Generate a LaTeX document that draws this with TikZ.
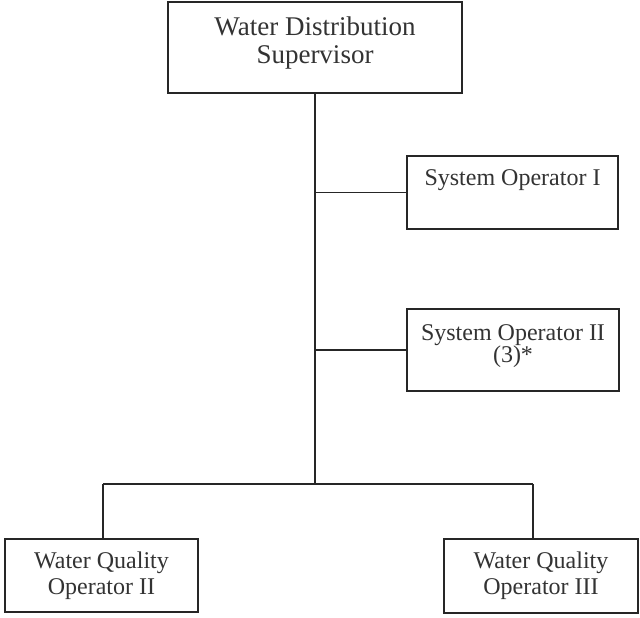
\documentclass[tikz,border=0pt]{standalone}
\usepackage{fontspec}
\setmainfont{Liberation Serif}
\begin{document}
\begin{tikzpicture}[x=1pt,y=1pt,
  every node/.style={inner sep=0pt, outer sep=0pt},
  post/.style={draw=black!85, line width=1.8pt, fill=white, align=center, text=black!80},
  link/.style={draw=black!85, line width=1.8pt}]
\useasboundingbox (0,0) rectangle (640,-618);

% Positions
\node[post, minimum width=294pt, minimum height=91pt,
      font=\fontsize{27}{28}\selectfont] (sup) at (315,-47.5)
  {Water Distribution\\Supervisor\\[-21pt]\strut};
\node[post, minimum width=211pt, minimum height=73pt,
      font=\fontsize{24}{28}\selectfont] (so1) at (512.5,-192.5)
  {System Operator I\\[-7pt]\strut};
\node[post, minimum width=212pt, minimum height=82pt,
      font=\fontsize{24}{22}\selectfont] (so2) at (513,-350)
  {System Operator II\\(3)*\\[-15pt]\strut};
\node[post, minimum width=193pt, minimum height=73pt,
      font=\fontsize{24}{26}\selectfont] (wq2) at (101.5,-575.5)
  {Water Quality\\Operator II};
\node[post, minimum width=194pt, minimum height=74pt,
      font=\fontsize{24}{26}\selectfont] (wq3) at (541,-576)
  {Water Quality\\Operator III};

% Junction points of the reporting lines
\coordinate (bar) at (315,-484);
\coordinate (lj) at (103,-484);
\coordinate (rj) at (533,-484);

% Reporting lines
\draw[link] (sup.south) -- (bar);
\draw[link] (so1.west) -- (so1.west -| sup.south);
\draw[link] (so2.west) -- (so2.west -| sup.south);
\draw[link] (lj) -- (rj);
\draw[link] (lj) -- (lj |- wq2.north);
\draw[link] (rj) -- (rj |- wq3.north);
\end{tikzpicture}
\end{document}
